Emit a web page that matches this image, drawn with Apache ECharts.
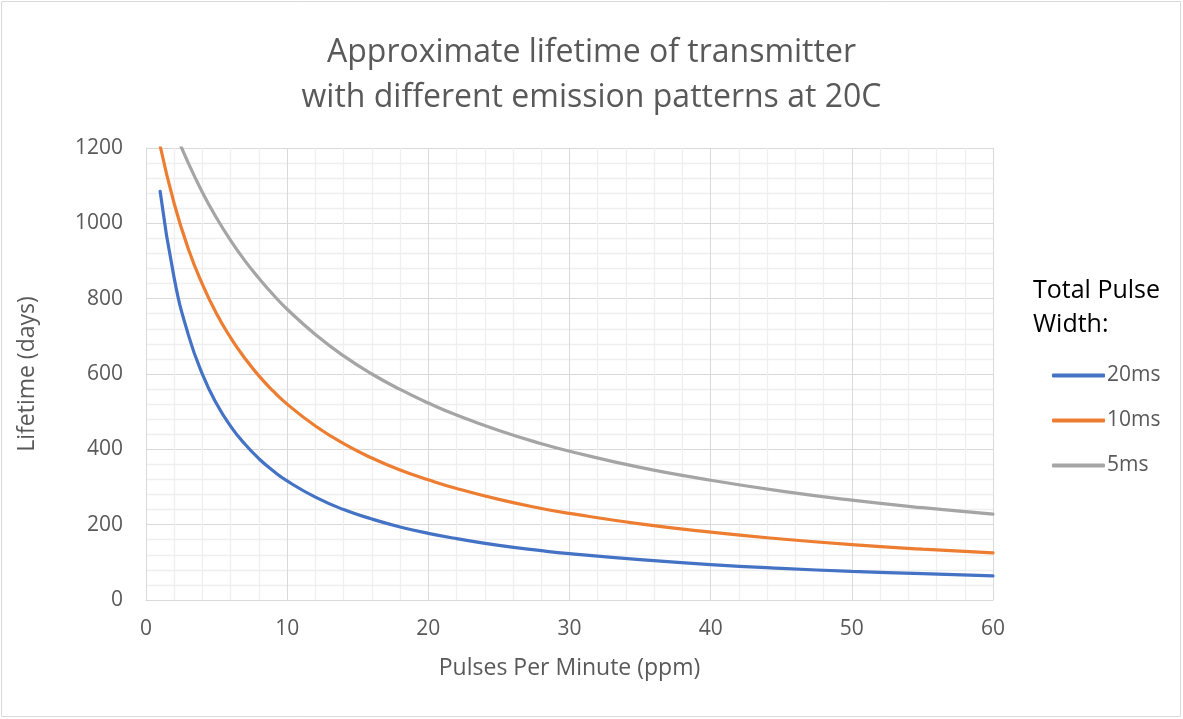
<!DOCTYPE html>
<html><head><meta charset="utf-8">
<script src="https://cdn.jsdelivr.net/npm/echarts@6/dist/echarts.min.js"></script>
<style>html,body{margin:0;padding:0;background:#fff}#c{width:1183px;height:719px}</style>
</head><body><div id="c"></div>
<script>
const xValues = [1,2,3,4,5,6,7,8,9,10,12,14,16,18,20,22,25,28,30,35,40,45,50,55,60];
const life20ms = [1085,854,704,599,521,461,414,375,343,316,273,240,215,194,177,163,145,131,123,107,94,84,76,70,64];
const life10ms = [1206,1052,932,838,760,696,642,595,555,520,462,415,377,345,319,296,267,243,230,202,180,162,147,135,125];
const life5ms  = [1354,1249,1160,1082,1014,954,901,854,811,772,705,648,600,559,523,491,450,415,395,352,318,289,265,245,228];
const seriesNames = ['20ms','10ms','5ms'];
const seriesColors = ['#4472C4','#ED7D31','#A5A5A5'];
const titleText = 'Approximate lifetime of transmitter\nwith different emission patterns at 20C';
const legendTitle = 'Total Pulse\nWidth:';
const xName = 'Pulses Per Minute (ppm)';
const yName = 'Lifetime (days)';

const font = '"Open Sans", sans-serif';
const pair = (ys) => xValues.map((x, i) => [x, ys[i]]);
const allData = [life20ms, life10ms, life5ms];

const chart = echarts.init(document.getElementById('c'));
chart.setOption({
  animation: false,
  backgroundColor: '#fff',
  textStyle: {fontFamily: font},
  title: [{
    text: titleText, left: 'center', top: 25,
    textStyle: {fontFamily: font, fontWeight: 'normal', fontSize: 32, color: '#595959', lineHeight: 45}
  }, {
    text: legendTitle, left: 1028, top: 269,
    textStyle: {fontFamily: font, fontWeight: 'normal', fontSize: 25, color: '#000', lineHeight: 34}
  }],
  graphic: [{type: 'rect', shape: {x: 1.5, y: 1.5, width: 1179, height: 715}, style: {fill: 'none', stroke: '#d9d9d9', lineWidth: 1}}],
  legend: {
    orient: 'vertical', left: 1047, top: 360, itemWidth: 53, itemHeight: 4, itemGap: 24,
    icon: 'roundRect',
    textStyle: {fontFamily: font, fontSize: 21, color: '#595959', padding: [0,0,0,-3]},
    data: seriesNames
  },
  grid: {left: 146, right: 190, top: 148, bottom: 119},
  xAxis: {
    type: 'value', min: 0, max: 60, interval: 10,
    name: xName, nameLocation: 'middle', nameGap: 57,
    nameTextStyle: {fontFamily: font, fontSize: 23, color: '#595959'},
    axisLine: {show: true, lineStyle: {color: '#d9d9d9'}},
    axisTick: {show: false},
    axisLabel: {fontFamily: font, fontSize: 21, color: '#595959', margin: 19},
    splitLine: {show: true, lineStyle: {color: '#d9d9d9', width: 1}},
    minorTick: {show: false, splitNumber: 5},
    minorSplitLine: {show: true, lineStyle: {color: '#efefef', width: 1.3}}
  },
  yAxis: {
    type: 'value', min: 0, max: 1200, interval: 200,
    name: yName, nameLocation: 'middle', nameGap: 107,
    nameTextStyle: {fontFamily: font, fontSize: 23, color: '#595959'},
    axisLine: {show: true, lineStyle: {color: '#d9d9d9'}},
    axisTick: {show: false},
    axisLabel: {fontFamily: font, fontSize: 21, color: '#595959', margin: 23, formatter: (v) => String(v)},
    splitLine: {show: true, lineStyle: {color: '#d9d9d9', width: 1}},
    minorTick: {show: false, splitNumber: 5},
    minorSplitLine: {show: true, lineStyle: {color: '#efefef', width: 1.3}}
  },
  series: seriesNames.map((n, i) => ({
    name: n, type: 'line', smooth: true, showSymbol: false, clip: true,
    data: pair(allData[i]),
    itemStyle: {color: seriesColors[i]},
    lineStyle: {color: seriesColors[i], width: 3.2, cap: 'round'}
  }))
});
</script></body></html>
